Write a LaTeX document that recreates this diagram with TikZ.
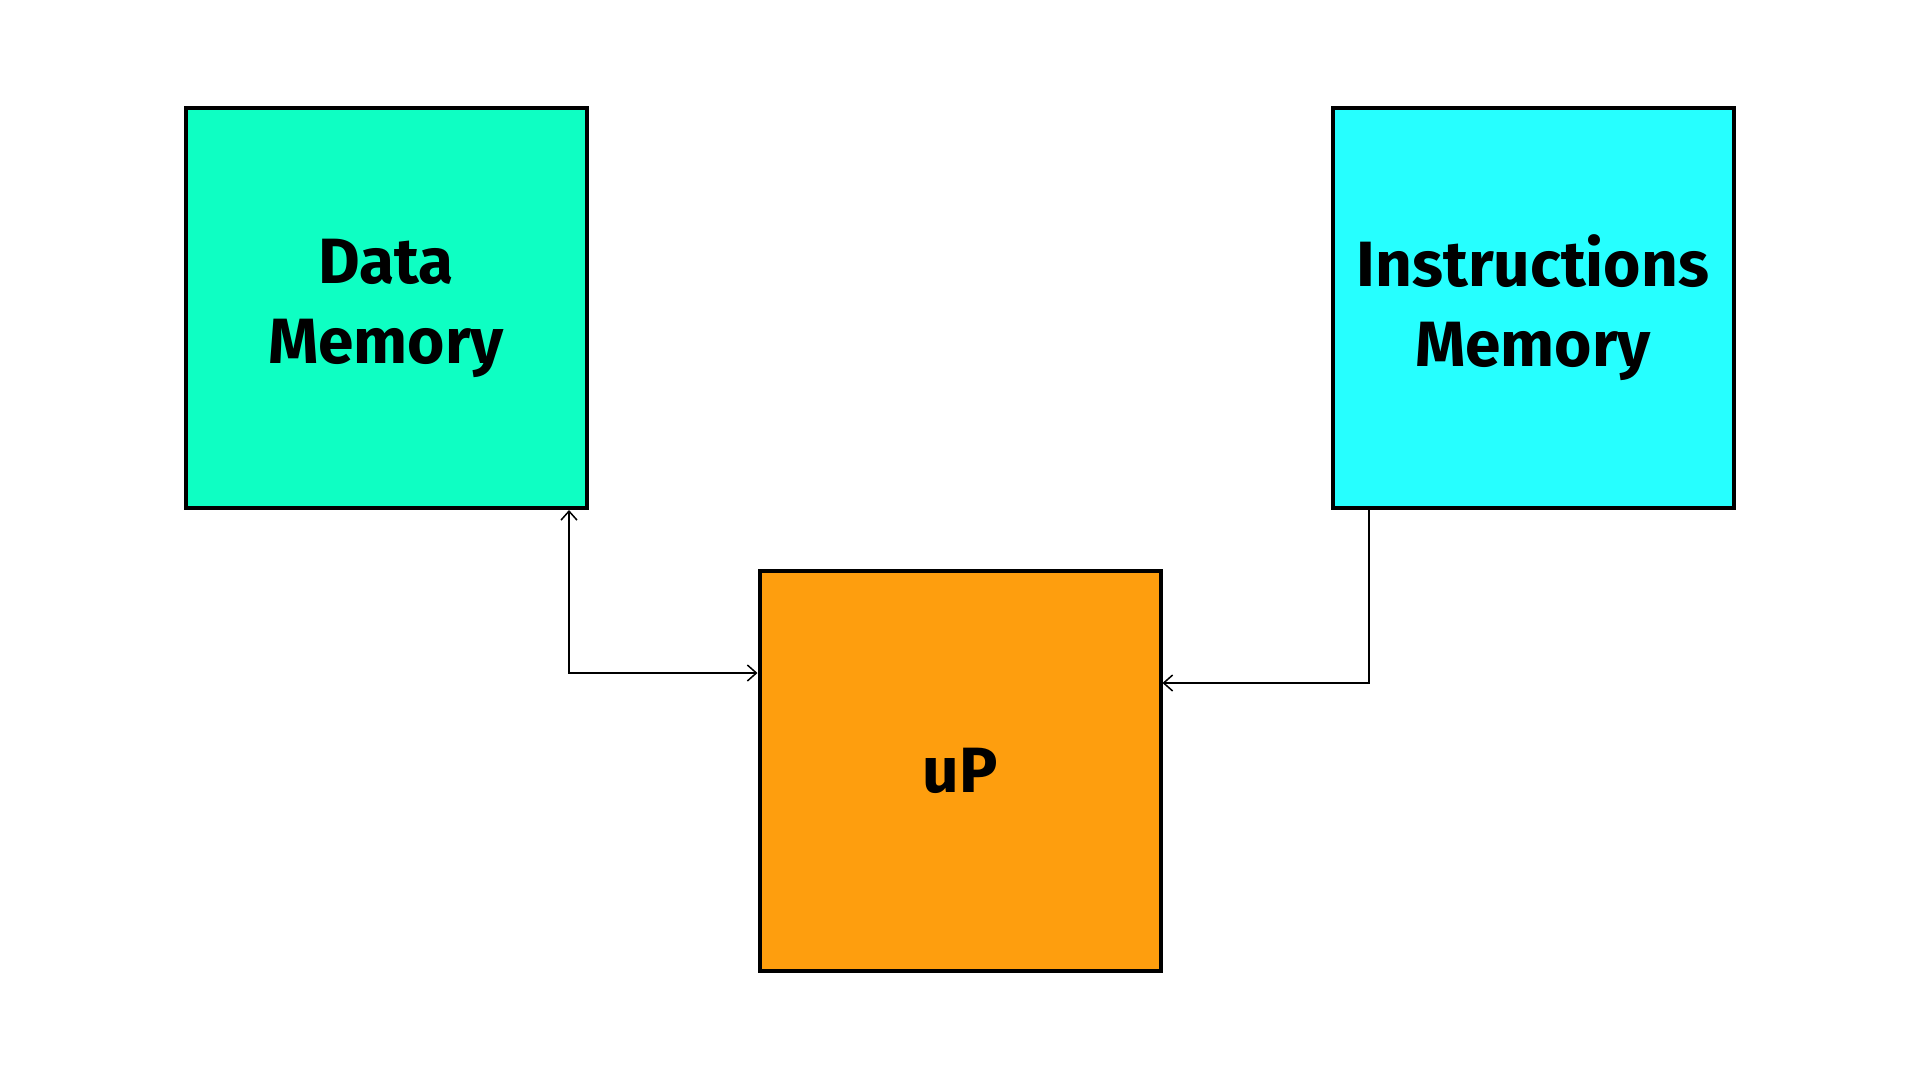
\documentclass[tikz,border=0pt]{standalone}
\usepackage{fontspec}
\setmainfont{Fira Sans}
\usetikzlibrary{arrows.meta}
\definecolor{dmem}{RGB}{14,255,195}
\definecolor{imem}{RGB}{38,255,255}
\definecolor{proc}{RGB}{254,158,14}
\begin{document}
\begin{tikzpicture}[x=1pt,y=-1pt,
  >={Straight Barb[length=9pt,width=16pt]},
  blk/.style={draw=black,line width=4pt,minimum width=401pt,minimum height=400pt,inner sep=0pt,
    font=\fontsize{64}{80}\selectfont\bfseries,align=center,text=black},
  conn/.style={line width=1.5pt,draw=black}]
\useasboundingbox (0,0) rectangle (1920,1080);
\node[blk,fill=dmem] (dm) at (386,308) {Data\\Memory};
\node[blk,fill=imem] (im) at (1533,308) {Instructions\\Memory};
\node[blk,fill=proc] (up) at (960,771) {uP};
\coordinate (c1) at (569,673);
\coordinate (c2) at (1369,683);
\draw[conn,<->] (c1 |- dm.south) -- (c1) -- (c1 -| up.west);
\draw[conn,->] (c2 |- im.south) -- (c2) -- (c2 -| up.east);
\end{tikzpicture}
\end{document}
